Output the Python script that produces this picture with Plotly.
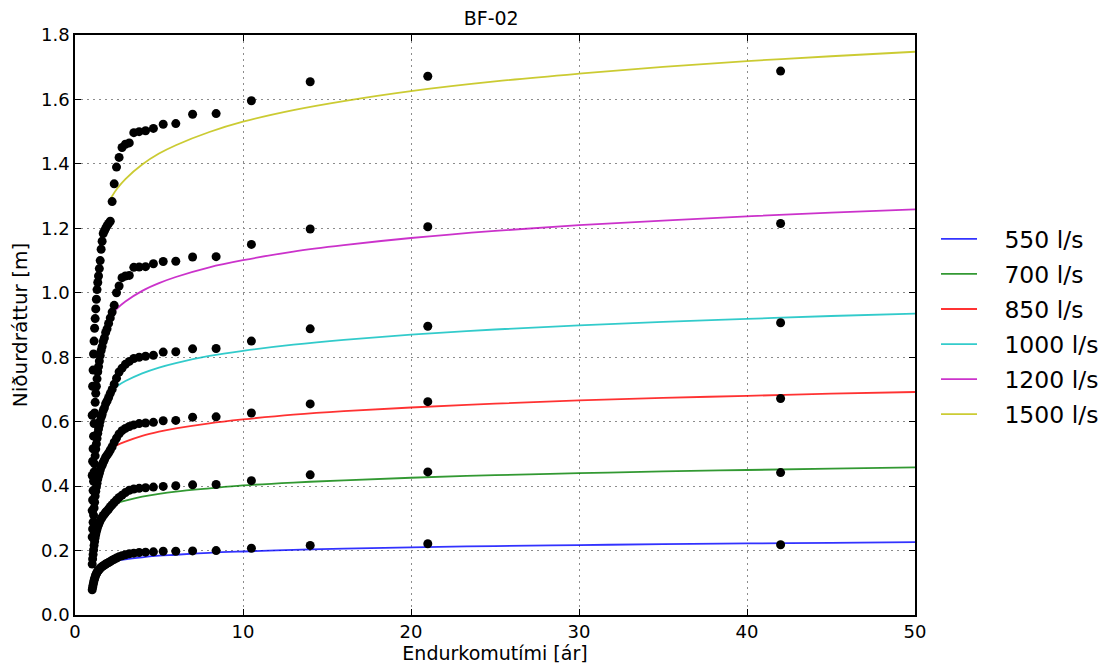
import plotly.graph_objects as go

# Return periods (plotting positions) of the observed points, years
return_period = [42.0, 21.0, 14.0, 10.5, 8.4, 7.0, 6.0, 5.25, 4.667, 4.2, 3.818, 3.5, 3.231, 3.0,
                 2.8, 2.625, 2.471, 2.333, 2.211, 2.1, 2.0, 1.909, 1.826, 1.75, 1.68, 1.615, 1.556,
                 1.5, 1.448, 1.4, 1.355, 1.3125, 1.273, 1.235, 1.2, 1.167, 1.135, 1.105, 1.077,
                 1.05, 1.024]

obs_550 = [0.218, 0.221, 0.216, 0.207, 0.200, 0.199, 0.198, 0.198, 0.196, 0.195, 0.194, 0.192,
           0.190, 0.187, 0.184, 0.181, 0.177, 0.173, 0.170, 0.166, 0.163, 0.160, 0.158, 0.155,
           0.153, 0.150, 0.148, 0.145, 0.142, 0.139, 0.136, 0.132, 0.128, 0.124, 0.119, 0.113,
           0.107, 0.100, 0.093, 0.086, 0.078]
obs_700 = [0.442, 0.444, 0.435, 0.417, 0.405, 0.404, 0.401, 0.399, 0.397, 0.395, 0.393, 0.391,
           0.387, 0.380, 0.372, 0.365, 0.357, 0.349, 0.342, 0.336, 0.329, 0.323, 0.319, 0.313,
           0.309, 0.303, 0.299, 0.293, 0.287, 0.281, 0.275, 0.267, 0.259, 0.250, 0.240, 0.228,
           0.216, 0.202, 0.188, 0.174, 0.158]
obs_850 = [0.672, 0.662, 0.655, 0.627, 0.615, 0.614, 0.604, 0.603, 0.598, 0.596, 0.594, 0.590,
           0.585, 0.579, 0.572, 0.562, 0.549, 0.536, 0.522, 0.512, 0.503, 0.496, 0.490, 0.481,
           0.474, 0.465, 0.459, 0.450, 0.440, 0.431, 0.422, 0.409, 0.397, 0.384, 0.369, 0.350,
           0.332, 0.310, 0.288, 0.267, 0.242]
obs_1000 = [0.907, 0.896, 0.888, 0.850, 0.827, 0.826, 0.817, 0.816, 0.806, 0.803, 0.800, 0.796,
            0.787, 0.778, 0.766, 0.754, 0.735, 0.716, 0.700, 0.688, 0.675, 0.664, 0.656, 0.643,
            0.635, 0.622, 0.614, 0.602, 0.589, 0.577, 0.564, 0.548, 0.531, 0.515, 0.494, 0.469,
            0.444, 0.415, 0.386, 0.357, 0.324]
obs_1200 = [1.215, 1.205, 1.198, 1.150, 1.112, 1.111, 1.098, 1.097, 1.090, 1.081, 1.080, 1.079,
            1.054, 1.052, 1.047, 1.021, 1.000, 0.961, 0.940, 0.922, 0.905, 0.888, 0.877, 0.860,
            0.849, 0.833, 0.821, 0.805, 0.788, 0.771, 0.755, 0.733, 0.710, 0.688, 0.660, 0.627,
            0.594, 0.555, 0.516, 0.477, 0.433]
obs_1500 = [1.688, 1.672, 1.655, 1.596, 1.556, 1.554, 1.525, 1.523, 1.510, 1.503, 1.500, 1.497,
            1.465, 1.461, 1.451, 1.420, 1.390, 1.338, 1.283, 1.222, 1.215, 1.208, 1.200, 1.192,
            1.184, 1.160, 1.135, 1.100, 1.075, 1.052, 1.032, 1.010, 0.980, 0.950, 0.920, 0.890,
            0.850, 0.810, 0.760, 0.710, 0.620]

# Fitted curves at these return periods
fit_t = [2, 2.5, 3, 4, 5, 6, 8, 10, 13, 16, 20, 25, 30, 35, 40, 45, 50]
fit_550 = [0.164, 0.169, 0.173, 0.179, 0.184, 0.187, 0.193, 0.197, 0.202, 0.206, 0.210, 0.214,
           0.217, 0.220, 0.222, 0.224, 0.226]
fit_700 = [0.337, 0.348, 0.355, 0.367, 0.376, 0.383, 0.393, 0.402, 0.411, 0.418, 0.426, 0.434,
           0.440, 0.446, 0.450, 0.454, 0.458]
fit_850 = [0.511, 0.527, 0.538, 0.556, 0.569, 0.579, 0.595, 0.607, 0.622, 0.633, 0.644, 0.656,
           0.666, 0.674, 0.680, 0.687, 0.692]
fit_1000 = [0.689, 0.710, 0.726, 0.750, 0.768, 0.782, 0.804, 0.820, 0.839, 0.854, 0.870, 0.886,
            0.899, 0.910, 0.919, 0.928, 0.935]
fit_1200 = [0.922, 0.951, 0.973, 1.006, 1.030, 1.049, 1.079, 1.101, 1.128, 1.148, 1.170, 1.192,
            1.210, 1.224, 1.237, 1.249, 1.259]
fit_1500 = [1.282, 1.323, 1.353, 1.398, 1.432, 1.458, 1.499, 1.531, 1.567, 1.595, 1.626, 1.656,
            1.680, 1.701, 1.719, 1.734, 1.748]

labels = ["550 l/s", "700 l/s", "850 l/s", "1000 l/s", "1200 l/s", "1500 l/s"]
colors = ["#0000ff", "#008000", "#ff0000", "#00bfbf", "#bf00bf", "#bfbf00"]
fits = [fit_550, fit_700, fit_850, fit_1000, fit_1200, fit_1500]
obs = [obs_550, obs_700, obs_850, obs_1000, obs_1200, obs_1500]

x_ticks = [0, 10, 20, 30, 40, 50]
y_ticks = [0.0, 0.2, 0.4, 0.6, 0.8, 1.0, 1.2, 1.4, 1.6, 1.8]

NBSP = "\u00a0"
fig = go.Figure()
for lab, col, f in zip(labels, colors, fits):
    fig.add_trace(go.Scatter(x=fit_t, y=f, mode="lines", name=NBSP * 3 + lab, legendgroup=lab,
                             line=dict(color=col, width=1.8, shape="spline"),
                             opacity=0.8))
for o in obs:
    fig.add_trace(go.Scatter(x=return_period, y=o, mode="markers", showlegend=False,
                             marker=dict(color="black", size=9, line=dict(width=0))))

font = "DejaVu Sans, Verdana, sans-serif"
grid = dict(showgrid=True, gridcolor="#8c8c8c", griddash="1.5px,4.5px", gridwidth=1.2)
axis = dict(showline=True, linecolor="black", linewidth=1.5, mirror="allticks",
            ticks="inside", ticklen=6, tickcolor="black", zeroline=False,
            tickfont=dict(size=18, family=font, color="black"))

fig.update_layout(
    width=1109, height=666,
    margin=dict(l=67, r=202, t=27, b=59, autoexpand=False),
    paper_bgcolor="white", plot_bgcolor="white",
    font=dict(family=font, size=18, color="black"),
    title=dict(text="BF-02", x=0.4357, xanchor="center", y=0.984, yanchor="middle",
               font=dict(size=19, family=font, color="black")),
    legend=dict(xref="container", yref="container", x=0.8368, xanchor="left",
                y=0.686, yanchor="top",
                font=dict(size=23.5, family=font, color="black"),
                bgcolor="rgba(0,0,0,0)", itemwidth=36, tracegroupgap=1.5),
    showlegend=True,
)
fig.update_xaxes(range=[0, 50], tickvals=x_ticks, ticktext=[str(v) for v in x_ticks],
                 title=dict(text="Endurkomutími [ár]", standoff=4,
                            font=dict(size=19, family=font, color="black")),
                 **axis, **grid)
fig.update_yaxes(range=[0, 1.8], tickvals=y_ticks, ticktext=[f"{v:.1f}" for v in y_ticks],
                 title=dict(text="Niðurdráttur [m]", standoff=8,
                            font=dict(size=20, family=font, color="black")),
                 **axis, **grid)

fig.write_html("out.html")
